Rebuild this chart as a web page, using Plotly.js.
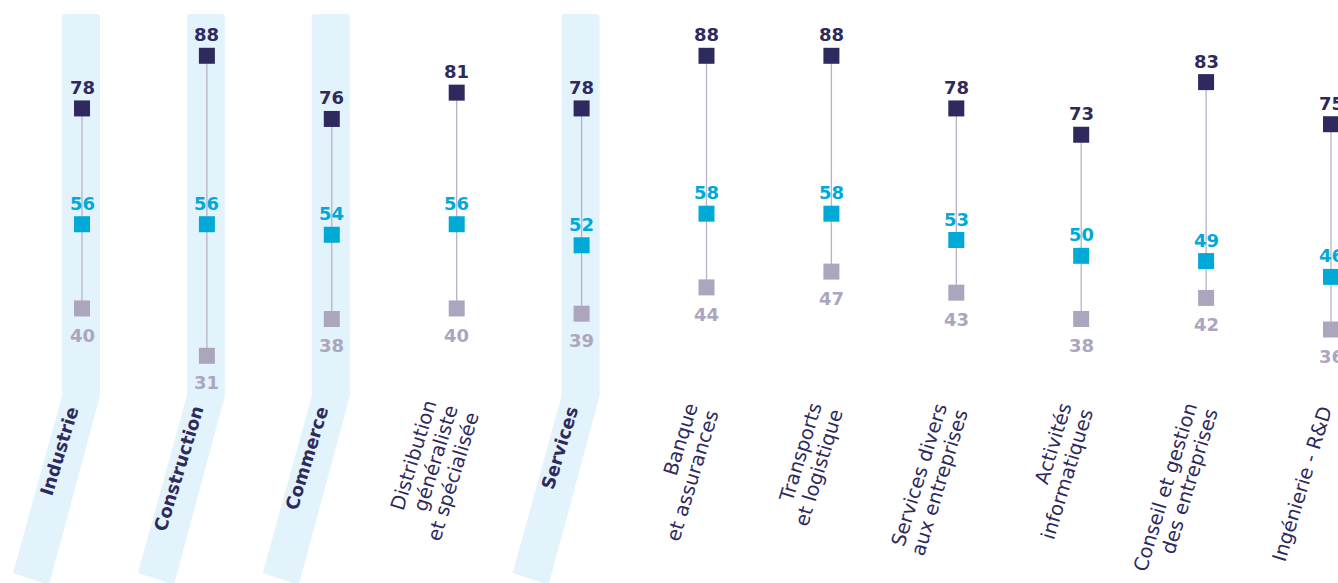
<!DOCTYPE html>
<html><head><meta charset="utf-8">
<script src="https://cdn.plot.ly/plotly-3.0.1.min.js"></script>
<style>html,body{margin:0;padding:0;background:#fff;overflow:hidden}</style>
</head><body><div id="chart" style="width:1338px;height:583px"></div>
<script>
// ---- data ----
const categories = ["Industrie", "Construction", "Commerce", "Distribution<br>généraliste<br>et spécialisée", "Services", "Banque<br>et assurances", "Transports<br>et logistique", "Services divers<br>aux entreprises", "Activités<br>informatiques", "Conseil et gestion<br>des entreprises", "Ingénierie - R&D"];
const highlighted = [true, true, true, false, true, false, false, false, false, false, false];
const topValues = [78, 88, 76, 81, 78, 88, 88, 78, 73, 83, 75];
const midValues = [56, 56, 54, 56, 52, 58, 58, 53, 50, 49, 46];
const lowValues = [40, 31, 38, 40, 39, 44, 47, 43, 38, 42, 36];

// ---- styles ----
const NAVY = '#2e2a5d', CYAN = '#00aad7', GREY = '#aba6be', LINE = '#b6b3c8', BAND = '#e2f3fb';
const FONT = 'DejaVu Sans';

const idx = categories.map((_, i) => i);

// connectors
const cx = [], cy = [];
idx.forEach(i => {
  const vals = [topValues[i], midValues[i], lowValues[i]];
  cx.push(i, i, null);
  cy.push(Math.max(...vals), Math.min(...vals), null);
});

const traces = [
  {x: cx, y: cy, mode: 'lines', line: {color: LINE, width: 1.3}, hoverinfo: 'skip', showlegend: false},
  {x: idx, y: lowValues, mode: 'markers', marker: {symbol: 'square', size: 16, color: GREY}, showlegend: false},
  {x: idx, y: midValues, mode: 'markers', marker: {symbol: 'square', size: 16, color: CYAN}, showlegend: false},
  {x: idx, y: topValues, mode: 'markers', marker: {symbol: 'square', size: 16, color: NAVY}, showlegend: false}
];

const annotations = [];
function valueLabels(vals, color, shift) {
  vals.forEach((v, i) => annotations.push({
    x: i, y: v, xref: 'x', yref: 'y', text: String(v), showarrow: false,
    xanchor: 'center', yanchor: 'middle', yshift: shift,
    font: {family: FONT, size: 18, color: color, weight: 700}
  }));
}
valueLabels(topValues, NAVY, 21);
valueLabels(midValues, CYAN, 21);
valueLabels(lowValues, GREY, -27);

// category labels (rotated, one annotation per line, lines end-aligned)
const ANG = 73, rad = ANG * Math.PI / 180, SP = 22;
categories.forEach((c, i) => {
  const lines = c.split('<br>');
  const n = lines.length;
  const fs = highlighted[i] ? 18 : 19.5;
  const lh = fs * 1.3;
  const base = Math.sin(rad) * lh - fs - 1 + (highlighted[i] ? 0 : 5);
  lines.forEach((t, k) => {
    const o = (k - (n - 1) / 2) * SP;
    annotations.push({
      x: i, y: 1 - 401 / 583, xref: 'x', yref: 'paper', text: t, showarrow: false,
      textangle: -ANG, xanchor: 'right', yanchor: 'top',
      xshift: base + o * Math.sin(rad),
      yshift: -o * Math.cos(rad),
      font: {family: FONT, size: fs, color: NAVY, weight: highlighted[i] ? 700 : 400}
    });
  });
});

// highlight bands
const shapes = [];
idx.forEach(i => {
  if (!highlighted[i]) return;
  shapes.push({
    type: 'path', xref: 'x', yref: 'y', xsizemode: 'pixel', ysizemode: 'pixel',
    xanchor: i, yanchor: 0, layer: 'below', line: {width: 0}, fillcolor: BAND,
    path: 'M -20,502 Q -20,505 -17,505 L 15,505 Q 18,505 18,502 L 18,123 L -33,-66 L -69,-54 L -20,123 Z'
  });
});

const layout = {
  width: 1338, height: 583,
  margin: {l: 0, r: 0, t: 0, b: 0},
  paper_bgcolor: '#ffffff', plot_bgcolor: 'rgba(0,0,0,0)',
  xaxis: {type: 'linear', range: [-0.6565, 10.056], visible: false, fixedrange: true},
  yaxis: {range: [-12.16, 98.6], visible: false, fixedrange: true},
  showlegend: false, hovermode: false,
  annotations: annotations, shapes: shapes
};

Plotly.newPlot('chart', traces, layout, {displayModeBar: false, staticPlot: true});
</script>
</body></html>
